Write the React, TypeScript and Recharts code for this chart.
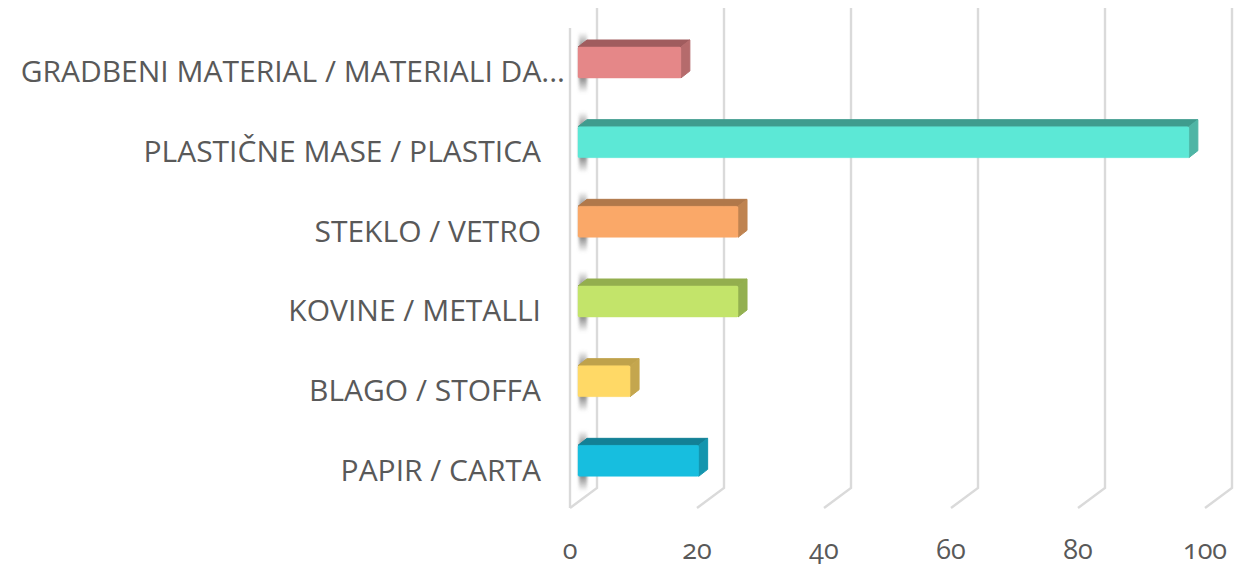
import { BarChart, Bar, XAxis, YAxis, CartesianGrid } from "recharts";

const categories = [
    "GRADBENI MATERIAL / MATERIALI DA...",
    "PLASTIČNE MASE / PLASTICA",
    "STEKLO / VETRO",
    "KOVINE / METALLI",
    "BLAGO / STOFFA",
    "PAPIR / CARTA",
];
const values = [16.2, 96.2, 25.2, 25.2, 8.2, 19];
const xTicks = [0, 20, 40, 60, 80, 100];

const frontColors = ["#E58788", "#5CE8D6", "#FAA868", "#C3E46A", "#FFD966", "#17BEDF"];
const topColors = ["#A05C5E", "#3F9C8E", "#B0784A", "#93AE4E", "#BFA24B", "#138096"];
const sideColors = ["#B56B6C", "#4FB5A5", "#BF8350", "#93B050", "#C4A64E", "#1495AE"];

const data = categories.map((name, i) => ({ name, value: values[i] }));

const FONT = "'Open Sans', sans-serif";
const DEPTH_X = 9;
const DEPTH_Y = 7;

function Bar3D(props: any) {
    const { x, y, width, height, index } = props;
    const left = x + 8;
    const top = y - 7;
    const right = left + width;
    const bottom = top + height;
    return (
        <g>
            <rect x={left + 1} y={top - 15} width={8} height={height + 30} fill="url(#wallFade)" filter="url(#wallShadow)" />
            <polygon
                points={`${left},${top} ${left + DEPTH_X},${top - DEPTH_Y} ${right + DEPTH_X},${top - DEPTH_Y} ${right},${top}`}
                fill={topColors[index]}
                stroke={topColors[index]}
                strokeWidth={1}
                strokeLinejoin="round"
            />
            <polygon
                points={`${right},${top} ${right + DEPTH_X},${top - DEPTH_Y} ${right + DEPTH_X},${bottom - DEPTH_Y} ${right},${bottom}`}
                fill={sideColors[index]}
                stroke={sideColors[index]}
                strokeWidth={1}
                strokeLinejoin="round"
            />
            <rect
                x={left}
                y={top}
                width={width}
                height={height}
                rx={1.5}
                fill={frontColors[index]}
                stroke={frontColors[index]}
                strokeOpacity={0.45}
                strokeWidth={1}
            />
        </g>
    );
}

function GridLine(props: any) {
    const { x1, y2, index } = props;
    const bottom = y2;
    const backX = x1 + 27;
    return (
        <g key={index} fill="none" stroke="#DADADA" strokeWidth={2.4}>
            <path d={`M${backX},${bottom - 500} L${backX},${bottom - 20} L${x1},${bottom}`} />
            {x1 < 600 ? <path d={`M${x1},${bottom} L${x1},${bottom - 480}`} /> : null}
        </g>
    );
}

function CategoryTick(props: any) {
    const { y, payload } = props;
    const truncated = payload.value.endsWith("...");
    return (
        <text
            x={truncated ? 565 : 541}
            y={y + 1}
            textAnchor="end"
            dominantBaseline="central"
            fontFamily={FONT}
            fontSize={30}
            fill="#595959"
        >
            {payload.value}
        </text>
    );
}

function ValueTick(props: any) {
    const { x, payload } = props;
    return (
        <text
            x={x}
            y={559}
            textAnchor="middle"
            fontFamily={FONT}
            fontSize={27}
            fill="#595959"
            style={{ fontFeatureSettings: "'onum'" }}
        >
            {payload.value}
        </text>
    );
}

export default function App() {
    return (
        <div style={{ position: "absolute", left: 0, top: 0, width: 1256, height: 567, background: "#fff" }}>
            <BarChart
                width={1256}
                height={567}
                data={data}
                layout="vertical"
                barSize={31}
                margin={{ top: 30, right: 51, bottom: 0, left: 0 }}
            >
                <defs>
                    <filter id="wallShadow" x="-100%" y="-30%" width="300%" height="160%">
                        <feGaussianBlur stdDeviation="1.6" />
                    </filter>
                    <linearGradient id="wallFade" x1="0" y1="0" x2="0" y2="1">
                        <stop offset="0" stopColor="#808080" stopOpacity={0} />
                        <stop offset="0.26" stopColor="#808080" stopOpacity={0.95} />
                        <stop offset="0.74" stopColor="#808080" stopOpacity={0.95} />
                        <stop offset="1" stopColor="#808080" stopOpacity={0} />
                    </linearGradient>
                </defs>
                <CartesianGrid horizontal={false} vertical={GridLine} />
                <XAxis
                    type="number"
                    domain={[0, 100]}
                    ticks={xTicks}
                    height={59}
                    axisLine={false}
                    tickLine={false}
                    tick={ValueTick}
                    interval={0}
                />
                <YAxis
                    type="category"
                    dataKey="name"
                    width={570}
                    axisLine={false}
                    tickLine={false}
                    tick={CategoryTick}
                    interval={0}
                />
                <Bar dataKey="value" shape={Bar3D} isAnimationActive={false} />
            </BarChart>
        </div>
    );
}
